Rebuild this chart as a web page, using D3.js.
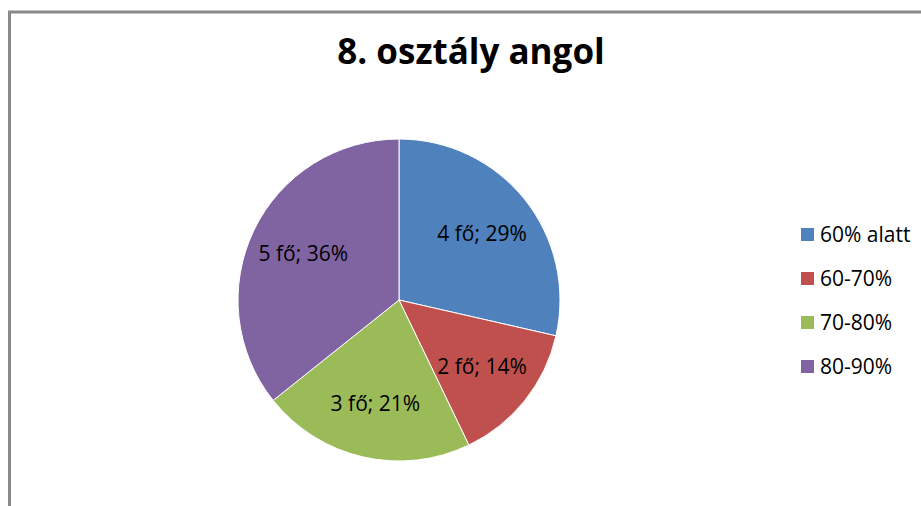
<!DOCTYPE html>
<html>
<head>
<meta charset="utf-8">
<script src="https://cdn.jsdelivr.net/npm/d3@7"></script>
<style>
  body { margin: 0; background: #fff; }
  text { font-family: "Open Sans", sans-serif; fill: #000; }
</style>
</head>
<body>
<svg id="chart"></svg>
<script>
var width = 921,
    height = 506;

// data
var categories = ["60% alatt", "60-70%", "70-80%", "80-90%"];
var counts = [4, 2, 3, 5];
var colors = ["#4f81bd", "#c0504d", "#9bbb59", "#8064a2"];
var title = "8. osztály angol";

var data = categories.map((c, i) => ({name: c, count: counts[i], color: colors[i]}));
var total = d3.sum(counts);

var svg = d3.select("#chart")
    .attr("width", width)
    .attr("height", height);

// chart frame (right and bottom edges fall outside the picture)
svg.append("rect")
    .attr("x", 9.5)
    .attr("y", 12)
    .attr("width", 960)
    .attr("height", 560)
    .attr("fill", "none")
    .attr("stroke", "#898989")
    .attr("stroke-width", 3);

// title
svg.append("text")
    .attr("x", 471)
    .attr("y", 64)
    .attr("text-anchor", "middle")
    .style("font-size", "35px")
    .style("font-weight", "bold")
    .text(title);

// pie
var radius = 161;
var cx = 399, cy = 300;

var pie = d3.pie()
    .sort(null)
    .value(d => d.count);

var arc = d3.arc()
    .innerRadius(0)
    .outerRadius(radius);

var labelArc = d3.arc()
    .innerRadius(radius * 0.66)
    .outerRadius(radius * 0.66);

var g = svg.append("g")
    .attr("transform", `translate(${cx}, ${cy})`);

var arcs = pie(data);

g.selectAll("path")
    .data(arcs)
  .enter().append("path")
    .attr("d", arc)
    .attr("fill", d => d.data.color)
    .attr("stroke", "#fff")
    .attr("stroke-width", 1);

g.selectAll(".label")
    .data(arcs)
  .enter().append("text")
    .attr("class", "label")
    .attr("transform", d => `translate(${labelArc.centroid(d)})`)
    .attr("text-anchor", "middle")
    .attr("dy", "0.35em")
    .style("font-size", "21px")
    .text(d => `${d.data.count} fő; ${Math.round(d.data.count / total * 100)}%`);

// legend
var legendY = d3.scalePoint()
    .domain(categories)
    .range([235, 367]);

var legend = svg.append("g")
    .selectAll("g")
    .data(data)
  .enter().append("g")
    .attr("transform", d => `translate(801, ${legendY(d.name)})`);

legend.append("rect")
    .attr("x", 0)
    .attr("y", -7)
    .attr("width", 13)
    .attr("height", 13)
    .attr("fill", d => d.color);

legend.append("text")
    .attr("x", 19)
    .attr("dy", "0.35em")
    .style("font-size", "21px")
    .text(d => d.name);
</script>
</body>
</html>
